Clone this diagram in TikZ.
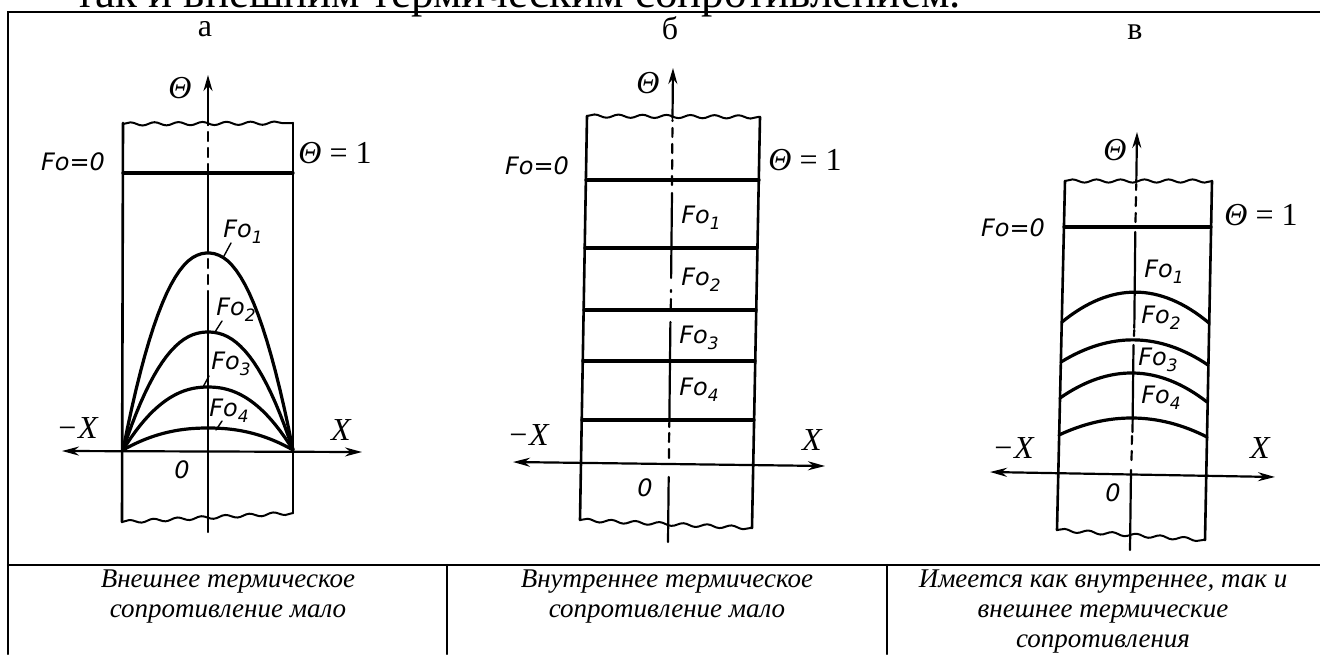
\documentclass[tikz,border=0pt]{standalone}
\usepackage{fontspec}
\setmainfont{Liberation Serif}
\newfontfamily\drawfont{DejaVu Sans}
\usetikzlibrary{arrows.meta,decorations.pathmorphing}

\newcommand{\fo}[1]{Fo\raisebox{-6pt}{\fontsize{17}{17}\selectfont #1}}

\begin{document}
\begin{tikzpicture}[x=1pt, y=-1pt, line cap=round,
    frame/.style={line width=2.4pt},
    wall/.style={line width=2.6pt},
    wavy/.style={line width=2pt, decorate,
      decoration={snake, segment length=24pt, amplitude=1.6pt}},
    fo/.style={line width=3.2pt},
    ax/.style={line width=2.2pt},
    axdash/.style={line width=2.2pt, dash pattern=on 9pt off 7pt},
    uptip/.style={ax, -{Stealth[length=16pt,width=9pt]}},
    twotips/.style={ax, {Stealth[length=17pt,width=9pt]}-{Stealth[length=17pt,width=9pt]}},
    lead/.style={line width=1.4pt},
    drw/.style={font=\drawfont\itshape\fontsize{24}{24}\selectfont, inner sep=0pt},
    mth/.style={font=\itshape\fontsize{32}{32}\selectfont, inner sep=0pt},
    ttl/.style={font=\fontsize{32}{32}\selectfont, inner sep=0pt},
    captxt/.style={font=\itshape\fontsize{27}{30}\selectfont, align=center, inner sep=0pt}]
  \useasboundingbox (0,0) rectangle (1320,654);

  % Cut-off text line above the table
  \node[anchor=base west, font=\fontsize{45}{45}\selectfont, inner sep=0pt] (head) at (75,7)
    {так и внешним термическим сопротивлением.};

  % Table
  \draw[frame] (8,654) -- (8,12) -- (1320,12);
  \draw[frame] (8,565) -- (1320,565);
  \draw[frame] (447,565) -- (447,654);
  \draw[frame] (887,565) -- (887,654);

  % ---- a ----
  \node[ttl] (la) at (205,29) {а};
  % slab
  \draw[wall] (123,123) -- (122,522);
  \draw[wall] (293,123) -- (293,513);
  \draw[wavy] (123,124) -- (293,123);
  \draw[wavy] (122,522) -- (293,513);
  % Fo=0
  \draw[fo] (123,173) -- (293,173);
  % curves
  \foreach \h in {197,118,63,22}
    \draw[fo] plot[domain=-1:1, samples=40] ({208+85*\x},{450-\h*(1-abs(\x)^2.2)});
  % axes
  \coordinate (aTop) at (208,75);
  \coordinate (aBot) at (208,532);
  \coordinate (aMX) at (62,451);
  \coordinate (aPX) at (362,452);
  \draw[ax] (aBot) -- (208,300);
  \draw[axdash] (208,300) -- (208,250);
  \draw[ax] (208,250) -- (208,173);
  \draw[axdash] (208,173) -- (208,125);
  \draw[uptip] (208,125) -- (aTop);
  \draw[twotips] (aMX) -- (aPX);
  % labels
  \node[mth] (tha) at (180,88) {Θ};
  \node[drw] (fza) at (73,162) {Fo=0};
  \node[mth, font=\fontsize{32}{32}\selectfont] (onea) at (335,153) {\textit{Θ} = 1};
  \node[drw] (fa1) at (243,232) {\fo{1}};
  \node[drw] (fa2) at (236,310) {\fo{2}};
  \node[drw] (fa3) at (231,364) {\fo{3}};
  \node[drw] (fa4) at (229,411) {\fo{4}};
  \coordinate (a1) at (224,256);
  \coordinate (a2) at (215,332);
  \coordinate (a3) at (203,387);
  \coordinate (a4) at (216,430);
  \draw[lead] (231,243) -- (a1);
  \draw[lead] (222,321) -- (a2);
  \draw[lead] (209,376) -- (a3);
  \draw[lead] (222,421) -- (a4);
  \node[mth] (mxa) at (77,428) {−X};
  \node[mth] (pxa) at (341,430) {X};
  \node[drw] (za) at (182,470) {0};

  % ---- b ----
  \node[ttl] (lb) at (670,28) {б};
  \draw[wall] (587,116) -- (580,520);
  \draw[wall] (760,117) -- (752,528);
  \draw[wavy] (587,116) -- (760,117);
  \draw[wavy] (580,520) -- (752,528);
  \draw[fo] (586,180) -- (759,180);
  \draw[fo] (585,248) -- (757,248);
  \draw[fo] (584,310) -- (756,310);
  \draw[fo] (583,361) -- (755,361);
  \draw[fo] (582,420) -- (754,420);
  \coordinate (bTop) at (673,68);
  \coordinate (bBot) at (668,542);
  \coordinate (bMX) at (513,462);
  \coordinate (bPX) at (825,466);
  \draw[ax] (bBot) -- (668.7,477);
  \draw[axdash] (668.9,458) -- (669.2,430);
  \draw[ax] (669.3,427) -- (670.4,322);
  \draw[axdash] (670.8,308) -- (671,290);
  \draw[ax] (671.1,278) -- (672,193);
  \draw[axdash] (672,185) -- (672.5,120);
  \draw[uptip] (672.5,118) -- (bTop);
  \draw[twotips] (bMX) -- (bPX);
  \node[mth] (thb) at (648,83) {Θ};
  \node[drw] (fzb) at (537,166) {Fo=0};
  \node[mth, font=\fontsize{32}{32}\selectfont] (oneb) at (805,160) {\textit{Θ} = 1};
  \node[drw] (fb1) at (701,218) {\fo{1}};
  \node[drw] (fb2) at (701,280) {\fo{2}};
  \node[drw] (fb3) at (699,338) {\fo{3}};
  \node[drw] (fb4) at (699,390) {\fo{4}};
  \node[mth] (mxb) at (528,435) {−X};
  \node[mth] (pxb) at (812,440) {X};
  \node[drw] (zb) at (645,488) {0};

  % ---- c ----
  \node[ttl] (lc) at (1135,32) {в};
  \draw[wall] (1065,181) -- (1057,530);
  \draw[wall] (1212,181) -- (1205,540);
  \draw[wavy] (1065,181) -- (1212,181);
  \draw[wavy] (1057,530) -- (1205,540);
  \draw[fo] (1064,227) -- (1211,227);
  \draw[fo] (1062,322) .. controls (1111,282) and (1160,282) .. (1209,323);
  \draw[fo] (1061,362) .. controls (1110,332) and (1159,332) .. (1208,365);
  \draw[fo] (1060,398) .. controls (1109,364) and (1158,364) .. (1207,402);
  \draw[fo] (1059,435) .. controls (1108,412) and (1158,412) .. (1207,437);
  \coordinate (cTop) at (1137,132);
  \coordinate (cBot) at (1130,550);
  \coordinate (cMX) at (990,472);
  \coordinate (cPX) at (1275,477);
  \draw[ax] (cBot) -- (1131,470);
  \draw[axdash] (1131.5,460) -- (1132,436);
  \draw[ax] (1132.5,432) -- (1133.5,345);
  \draw[axdash] (1134,336) -- (1134.2,330);
  \draw[ax] (1134.3,328) -- (1135.3,232);
  \draw[axdash] (1135.5,222) -- (1136.2,184);
  \draw[uptip] (1136.3,182) -- (cTop);
  \draw[twotips] (cMX) -- (cPX);
  \node[mth] (thc) at (1115,150) {Θ};
  \node[drw] (fzc) at (1013,228) {Fo=0};
  \node[mth, font=\fontsize{32}{32}\selectfont] (onec) at (1261,215) {\textit{Θ} = 1};
  \node[drw] (fc1) at (1164,272) {\fo{1}};
  \node[drw] (fc2) at (1161,318) {\fo{2}};
  \node[drw] (fc3) at (1158,360) {\fo{3}};
  \node[drw] (fc4) at (1161,398) {\fo{4}};
  \node[mth] (mxc) at (1013,448) {−X};
  \node[mth] (pxc) at (1260,448) {X};
  \node[drw] (zc) at (1113,493) {0};

  % Captions
  \node[captxt] (capa) at (228,597) {Внешнее термическое\\сопротивление мало};
  \node[captxt] (capb) at (667,597) {Внутреннее термическое\\сопротивление мало};
  \node[captxt] (capc) at (1103,612) {Имеется как внутреннее, так и\\внешнее термические\\сопротивления};
\end{tikzpicture}
\end{document}
